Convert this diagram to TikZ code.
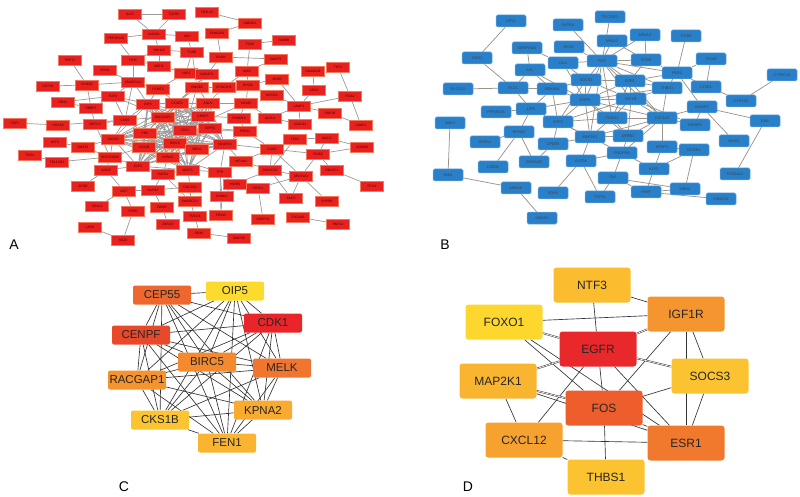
\documentclass[tikz,border=0pt]{standalone}
\usepackage{fontspec}
\setmainfont{Liberation Sans}
\usetikzlibrary{backgrounds}

\definecolor{redfill}{HTML}{E8201E}
\definecolor{redrim}{HTML}{F27A5C}
\definecolor{bluefill}{HTML}{2A80C8}
\definecolor{bluerim}{HTML}{6AA8E0}
\definecolor{linkA}{HTML}{9A9A9A}
\definecolor{linkB}{HTML}{9C938B}
% hub colours, panel C
\definecolor{cCDK1}{HTML}{E8262A}
\definecolor{cCENPF}{HTML}{E9492B}
\definecolor{cCEP55}{HTML}{EE672D}
\definecolor{cMELK}{HTML}{F0752E}
\definecolor{cBIRC5}{HTML}{F48A2E}
\definecolor{cRACGAP1}{HTML}{F5932F}
\definecolor{cKPNA2}{HTML}{F9AA30}
\definecolor{cFEN1}{HTML}{FAB430}
\definecolor{cCKS1B}{HTML}{FCC431}
\definecolor{cOIP5}{HTML}{FDDA2E}
% hub colours, panel D
\definecolor{dEGFR}{HTML}{E8282B}
\definecolor{dFOS}{HTML}{EE5E2C}
\definecolor{dESR1}{HTML}{F0792D}
\definecolor{dIGF1R}{HTML}{F5952F}
\definecolor{dCXCL12}{HTML}{F7A22F}
\definecolor{dMAP2K1}{HTML}{FAB530}
\definecolor{dNTF3}{HTML}{FBBC30}
\definecolor{dTHBS1}{HTML}{FCC331}
\definecolor{dSOCS3}{HTML}{FCC331}
\definecolor{dFOXO1}{HTML}{FDD72E}

\begin{document}
\begin{tikzpicture}[x=1pt,y=-1pt,
  rgene/.style={draw=redrim,line width=0.6pt,fill=redfill,minimum width=23pt,minimum height=10pt,inner sep=0pt,font=\fontsize{3.3}{4}\selectfont,text=black!70!red},
  bgene/.style={draw=bluerim,line width=0.5pt,fill=bluefill,rounded corners=1.5pt,minimum width=30pt,minimum height=12pt,inner sep=0pt,font=\fontsize{3.8}{4}\selectfont,text=black!75},
  hubc/.style={rounded corners=2pt,minimum width=58pt,minimum height=19pt,inner sep=0pt,font=\fontsize{11.5}{12}\selectfont,text=black!85},
  hubd/.style={rounded corners=3pt,minimum width=77pt,minimum height=35pt,inner sep=0pt,font=\fontsize{12}{13}\selectfont,text=black!85},
  alink/.style={draw=linkA,line width=0.7pt},
  blink/.style={draw=linkB,line width=0.75pt},
  hlink/.style={draw=black!80,line width=0.65pt},
  hpair/.style={draw=black!80,line width=0.5pt,double=white,double distance=0.7pt},
  panel/.style={font=\fontsize{14}{16}\selectfont}]

\useasboundingbox (0,0) rectangle (800,497);

% A: network of all genes
\foreach \g/\x/\y in {DLAT/130/14,TGFB2/174/14,FBXL20/207/12,UBE2D1/250/23,FAM120A/217/33,ALDOA/154/34,
  PPP1R12A/116/38,INA/187/36,FZD6/250/44,RAB8B/284/40,YWHAZ/159/50,TUBB/192/52,ENAH/221/57,WASF1/276/59,
  PHF17/70/60,PKM/133/60,MDH1/159/66,SDHA/105/70,YAP1/186/73,NUSAP1/207/74,MSN/247/71,KIAA0226/313/71,
  THY1/338/67,ARSB/277/79,SMARCA4/133/82,DSTYK/48/86,KCNQ5/87/85,PSME3/158/89,HMGB2/197/87,DYNC1H1/224/87,
  RHOA/248/85,SOX4/314/90,MYO5A/272/95,ITGA2/350/96,DBX2/63/102,E2F8/113/96,OIP5/148/104,CCNE2/177/103,
  ANLN/208/103,MCM6/246/103,LAMP1/299/106,RBBP5/91/108,RAP1B/330/113,TOP1/15/123,HOXA5/58/125,
  ZNF217/95/124,CDK6/125/120,RACGAP1/163/117,CENPF/203/116,PSMD10/239/118,ACSL4/270/118,LGALS3/300/124,
  LAMC1/361/125,PBK/145/133,CDK1/185/130,CEP55/210/128,PRR11/245/131,TBX2/295/139,MUC1/327/138,
  NDC80/113/139,AFF4/55/142,ZMAT3/83/147,BIRC5/175/143,NCAPD2/225/144,CANX/272/149,ADAM9/362/147,
  CKS1B/144/147,MELK/197/149,TGS1/30/155,PDIA6/318/154,HIST1H2BK/110/157,KPNA2/168/157,HIF1AN/241/161,
  TBL1XR1/57/162,E2F3/138/166,AGO2/106/170,RAD21/163/174,MASTL/188/170,TPR/220/172,DNAJC10/270/170,
  DNAJC1/332/170,SEC61A1/301/176,PPIL3/372/186,APOB/83/186,OGT/124/191,NUP62/153/190,CDC25A/190/187,
  HSPA5/235/184,DERL1/258/188,UHMK1/222/196,SACS/291/198,SRPRB/327/201,SMARCC1/190/201,ASXL2/97/206,
  PSPH/133/211,ZWINT/162/207,TMCO1/195/216,PEA15/221/215,OSBPL3/263/219,ZSCAN2/298/217,ZNF207/168/224,
  RNF14/338/224,LARS/90/227,SEZ6/123/240,SNX9/199/233,SMCR8/239/238}
  \node[rgene] (a\g) at (\x,\y) {\g};

% B: network of all genes
\foreach \g/\x/\y in {GPS1/511/21,AVPI1A/568/25,TSC22D3/610/17,NR4A3/645/35,ITGB8/686/36,NR4A2/612/41,
  SERPINA4/527/48,ROS2/569/47,GDS1/477/58,GLU/563/63,FOS/602/61,FOSB/646/60,ITGA9/711/59,CYP2C19/782/75,
  AXL/530/70,PER2/677/73,SOCS3/586/80,ESR1/630/81,THBS1/667/88,LYVE1/706/87,SLC2A3/458/89,PLD1/513/88,
  SEMA5A/552/89,EGFR/585/100,IGF1R/631/99,CYP1A2/741/101,NAMPT/702/107,PPP2R2A/496/112,LIFR/531/109,
  FOXO1/612/118,CXCL12/662/118,GNE/765/121,ANK3/450/123,NTF3/558/122,IGFBP4/695/125,EPHA2/519/132,
  MAP2K1/590/137,ARRB1/628/136,GFRA1/485/142,CPEB3/553/144,SFRP1/662/147,NCOR1/694/150,HAAO/734/141,
  PDGFRA/622/153,SEMA6D/534/162,GATA6/581/161,CIDEB/493/167,KLF5/654/169,DMD/448/175,QKI/613/178,
  ST6GAL2/735/174,AHNAK/516/188,SOX6/553/193,TCF21/600/197,MED4/685/189,HHIP/646/192,FAM13A/721/199,
  LMCD1/542/218}
  \node[bgene] (b\g) at (\x,\y) {\g};

% C: hub genes
\foreach \g/\x/\y in {CEP55/162/295,OIP5/235/291,CDK1/273/323,CENPF/141/335,BIRC5/207/362,MELK/282/368,
  RACGAP1/137/380,KPNA2/263/410,CKS1B/160/420,FEN1/227/443}
  \node[hubc,fill=c\g] (c\g) at (\x,\y) {\g};

% D: hub genes
\foreach \g/\x/\y in {NTF3/592/285,IGF1R/686/314,FOXO1/504/322,EGFR/598/349,SOCS3/710/376,MAP2K1/498/381,
  FOS/604/408,CXCL12/524/440,ESR1/686/443,THBS1/606/477}
  \node[hubd,fill=d\g] (d\g) at (\x,\y) {\g};

\node[panel] (labA) at (14,245) {A};
\node[panel] (labB) at (445,245) {B};
\node[panel] (labC) at (124,487) {C};
\node[panel] (labD) at (468,487) {D};

\begin{scope}[on background layer]
% A links
\foreach \u/\v in {DLAT/TGFB2,DLAT/ALDOA,TGFB2/ALDOA,ALDOA/PPP1R12A,ALDOA/YWHAZ,ALDOA/INA,PPP1R12A/PKM,
  YWHAZ/TUBB,YWHAZ/PKM,YWHAZ/MDH1,PKM/MDH1,PKM/SMARCA4,MDH1/YAP1,PHF17/KCNQ5,SDHA/SMARCA4,DSTYK/KCNQ5,
  KCNQ5/SMARCA4,KCNQ5/RBBP5,DBX2/E2F8,DBX2/RBBP5,E2F8/SMARCA4,RBBP5/ZNF217,RBBP5/E2F8,TOP1/HOXA5,
  HOXA5/CDK6,ZNF217/CDK6,SMARCA4/PSME3,SMARCA4/OIP5,SMARCA4/CDK6,PSME3/YAP1,PSME3/OIP5,PSME3/CCNE2,
  YAP1/NUSAP1,TUBB/YAP1,INA/TUBB,TUBB/HMGB2,FBXL20/UBE2D1,UBE2D1/FAM120A,FAM120A/ENAH,FZD6/RAB8B,
  FZD6/MSN,ENAH/WASF1,WASF1/MSN,ENAH/NUSAP1,MSN/RHOA,MSN/DYNC1H1,RHOA/ARSB,RHOA/MYO5A,RHOA/MCM6,
  KIAA0226/SOX4,THY1/ITGA2,SOX4/LAMP1,ITGA2/LAMP1,LAMP1/RAP1B,LAMP1/LGALS3,ITGA2/LAMC1,MYO5A/LAMP1,
  ARSB/LAMP1,ACSL4/LAMP1,ACSL4/MCM6,DYNC1H1/ANLN,DYNC1H1/RHOA,DYNC1H1/HMGB2,NUSAP1/HMGB2,HMGB2/ANLN,
  MCM6/PSMD10,PSMD10/CENPF,PSMD10/PRR11,ACSL4/LGALS3,RAP1B/LAMC1,AFF4/ZMAT3,TGS1/TBL1XR1,
  ZMAT3/HIST1H2BK,TBL1XR1/HIST1H2BK,ZMAT3/NDC80,HIST1H2BK/AGO2,AGO2/E2F3,AGO2/APOB,AGO2/OGT,OGT/NUP62,
  OGT/ASXL2,OGT/PSPH,PSPH/SEZ6,LARS/SEZ6,NUP62/RAD21,NUP62/CDC25A,ZWINT/ZNF207,ZWINT/NUP62,
  HIST1H2BK/E2F3,HIST1H2BK/NDC80,HIST1H2BK/CKS1B,E2F3/RAD21,CDC25A/MASTL,SMARCC1/CDC25A,SMARCC1/TMCO1,
  SMARCC1/RAD21,TMCO1/SNX9,CANX/TBX2,CANX/PDIA6,CANX/DNAJC10,CANX/SEC61A1,CANX/HIF1AN,CANX/NCAPD2,
  MUC1/TBX2,MUC1/ADAM9,MUC1/PDIA6,PDIA6/ADAM9,PDIA6/SEC61A1,PDIA6/DNAJC1,SEC61A1/SRPRB,SEC61A1/DNAJC10,
  SEC61A1/DERL1,DNAJC10/SACS,DNAJC1/PPIL3,DERL1/OSBPL3,HSPA5/DERL1,HSPA5/DNAJC10,HSPA5/UHMK1,
  ZSCAN2/RNF14,SMCR8/SNX9,HIF1AN/TPR,TPR/NCAPD2,TPR/MASTL,UHMK1/PEA15,PEA15/TPR,HSPA5/TPR,
  DNAJC10/HIF1AN,TBX2/DNAJC10,CANX/PRR11,HIF1AN/NCAPD2,PRR11/CEP55,PRR11/NCAPD2,PRR11/CDK1,MCM6/ANLN,
  MCM6/CDK1,CDK6/OIP5,CDK6/RACGAP1,CDK6/PBK,NDC80/PBK,NDC80/CDK6,E2F8/OIP5,E2F8/CDK6,E2F8/RACGAP1,
  HMGB2/CCNE2,HMGB2/CDK1,NUSAP1/CCNE2,NUSAP1/RACGAP1,RAD21/KPNA2,RAD21/MASTL,TPR/KPNA2,MASTL/MELK,
  ZNF217/HIST1H2BK,SACS/SEC61A1,UHMK1/TPR}
  \draw[alink] (a\u) -- (a\v);
\foreach \u [count=\i] in {OIP5,CCNE2,ANLN,RACGAP1,CENPF,PBK,CDK1,CEP55,BIRC5,NCAPD2,CKS1B,MELK,KPNA2,E2F3,NDC80,MASTL}
  \foreach \v [count=\j] in {OIP5,CCNE2,ANLN,RACGAP1,CENPF,PBK,CDK1,CEP55,BIRC5,NCAPD2,CKS1B,MELK,KPNA2,E2F3,NDC80,MASTL}
    {\ifnum\j>\i \draw[alink] (a\u) -- (a\v); \fi}
% B links
\foreach \u/\v in {GPS1/GDS1,GDS1/PLD1,SLC2A3/PLD1,PLD1/SEMA5A,PLD1/LIFR,PLD1/AXL,SERPINA4/AXL,
  SERPINA4/GLU,AXL/EGFR,AXL/SEMA5A,ROS2/FOS,GLU/FOS,GLU/EGFR,GLU/SOCS3,AVPI1A/FOS,TSC22D3/FOS,
  NR4A2/FOS,NR4A3/FOS,NR4A3/FOSB,NR4A2/FOSB,FOS/FOSB,FOSB/ESR1,FOSB/PER2,ITGB8/PER2,ITGA9/PER2,
  ITGA9/LYVE1,PER2/THBS1,PER2/NAMPT,PER2/CYP1A2,CYP2C19/CYP1A2,NAMPT/GNE,NAMPT/HAAO,GNE/ST6GAL2,
  NAMPT/CXCL12,NAMPT/IGFBP4,THBS1/CXCL12,SEMA5A/EGFR,SEMA5A/NTF3,SEMA5A/LIFR,LIFR/PPP2R2A,LIFR/EPHA2,
  LIFR/NTF3,LIFR/EGFR,ANK3/DMD,DMD/AHNAK,AHNAK/LMCD1,GFRA1/EPHA2,CIDEB/EPHA2,EPHA2/SEMA6D,CPEB3/SEMA6D,
  CPEB3/NTF3,CPEB3/MAP2K1,GATA6/SOX6,GATA6/TCF21,GATA6/MAP2K1,GATA6/PDGFRA,MAP2K1/ARRB1,ARRB1/EGFR,
  ARRB1/CXCL12,ARRB1/PDGFRA,CXCL12/SFRP1,CXCL12/IGFBP4,SFRP1/NCOR1,SFRP1/KLF5,NCOR1/MED4,KLF5/NCOR1,
  KLF5/PDGFRA,KLF5/HHIP,QKI/PDGFRA,QKI/MED4,QKI/HHIP,HHIP/FAM13A,MED4/HHIP,PDGFRA/MAP2K1,CXCL12/FOXO1,
  IGF1R/IGFBP4,ESR1/PER2,FOXO1/ARRB1,EGFR/FOS,EGFR/SOCS3,EGFR/ESR1,EGFR/IGF1R,EGFR/FOXO1,EGFR/CXCL12,
  EGFR/MAP2K1,EGFR/NTF3,EGFR/THBS1,FOS/SOCS3,FOS/ESR1,FOS/IGF1R,FOS/FOXO1,FOS/CXCL12,FOS/MAP2K1,
  FOS/THBS1,IGF1R/ESR1,IGF1R/SOCS3,IGF1R/FOXO1,IGF1R/NTF3,IGF1R/CXCL12,ESR1/SOCS3,ESR1/CXCL12,
  ESR1/THBS1,ESR1/FOXO1,MAP2K1/CXCL12,MAP2K1/NTF3,FOXO1/MAP2K1,SOCS3/SEMA5A,FOXO1/NTF3,ARRB1/IGF1R,
  PDGFRA/CXCL12,TCF21/QKI,NTF3/MAP2K1,SOCS3/NTF3,FOS/PER2,THBS1/IGF1R}
  \draw[blink] (b\u) -- (b\v);
% C links
\foreach \u [count=\i] in {CDK1,CENPF,CEP55,MELK,BIRC5,RACGAP1,KPNA2,FEN1,CKS1B,OIP5}
  \foreach \v [count=\j] in {CDK1,CENPF,CEP55,MELK,BIRC5,RACGAP1,KPNA2,FEN1,CKS1B,OIP5}
    {\ifnum\j>\i \draw[hlink] (c\u) -- (c\v); \fi}
% D links
\foreach \u/\v in {NTF3/IGF1R,NTF3/EGFR,FOXO1/IGF1R,FOXO1/FOS,FOXO1/ESR1,EGFR/FOS,EGFR/CXCL12,
  EGFR/ESR1,IGF1R/FOS,IGF1R/SOCS3,IGF1R/ESR1,MAP2K1/CXCL12,MAP2K1/ESR1,FOS/SOCS3,FOS/ESR1,
  FOS/THBS1,CXCL12/ESR1,CXCL12/THBS1,SOCS3/ESR1}
  \draw[hlink] (d\u) -- (d\v);
\foreach \u/\v in {FOXO1/EGFR,EGFR/IGF1R,EGFR/SOCS3,EGFR/MAP2K1,MAP2K1/FOS}
  \draw[hpair] (d\u) -- (d\v);
\end{scope}
\end{tikzpicture}
\end{document}
